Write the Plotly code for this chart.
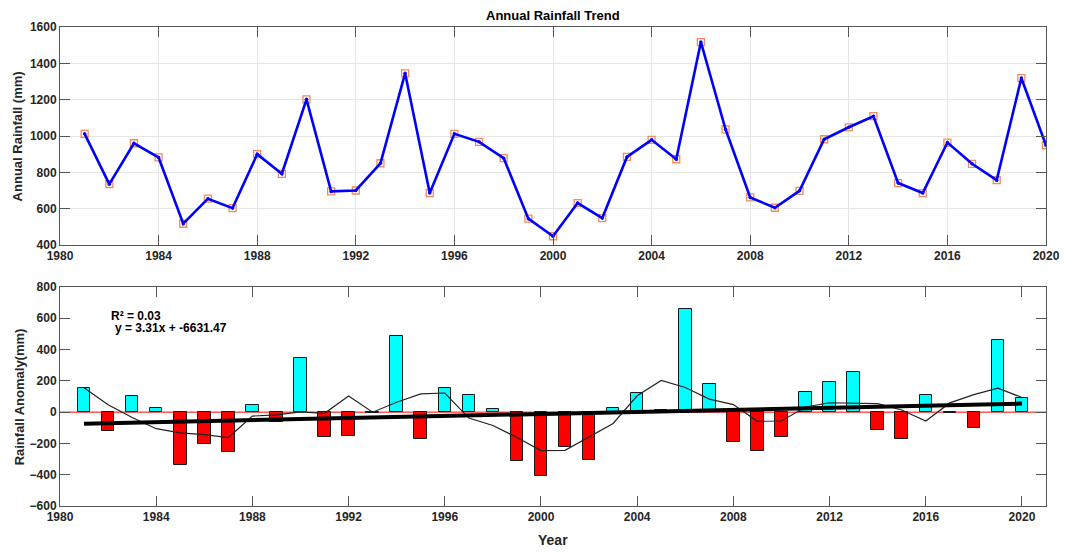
import plotly.graph_objects as go

# Annual rainfall series (mm), 1981-2020
years = list(range(1981, 2021))
rainfall = [1012, 735, 960, 882, 517, 655, 603, 900, 792, 1202,
            695, 700, 850, 1345, 686, 1012, 968, 878, 545, 448,
            631, 548, 885, 979, 872, 1517, 1037, 662, 605, 698,
            982, 1048, 1109, 741, 686, 964, 847, 757, 1319, 949]

# Linear trend fitted to the anomalies
trend_slope = 3.31
trend_intercept = -6631.47
trend_r2 = 0.03

x_ticks = list(range(1980, 2021, 4))

# Anomaly relative to the long-term mean
mean_rain = sum(rainfall) / len(rainfall)
anomaly = [r - mean_rain for r in rainfall]

# 5-point moving average with shrinking window at the ends
n = len(anomaly)
smoothed = []
for i in range(n):
    k = min(i, n - 1 - i, 2)
    seg = anomaly[i - k:i + k + 1]
    smoothed.append(sum(seg) / len(seg))

trend = [trend_slope * y + trend_intercept for y in years]
bar_colors = ["#00FFFF" if a >= 0 else "#FF0000" for a in anomaly]

FONT = "Liberation Sans, Arial, sans-serif"
TXT = "#262626"

fig = go.Figure()

# Top panel: annual rainfall
fig.add_trace(go.Scatter(
    x=years, y=rainfall, mode="markers", xaxis="x", yaxis="y",
    marker=dict(symbol="square-open", size=7, color="#F08A64",
                line=dict(width=1.3, color="#F08A64")),
    showlegend=False, hoverinfo="skip"))
fig.add_trace(go.Scatter(
    x=years, y=rainfall, mode="lines+markers", xaxis="x", yaxis="y",
    line=dict(color="#0000FF", width=2.6),
    marker=dict(symbol="circle", size=3.5, color="#0000FF"),
    showlegend=False))

# Bottom panel: anomaly bars, smoothed curve and linear trend
fig.add_trace(go.Bar(
    x=years, y=anomaly, xaxis="x2", yaxis="y2", width=0.52,
    marker=dict(color=bar_colors, line=dict(color="#1a1a1a", width=1)),
    showlegend=False))
fig.add_trace(go.Scatter(
    x=years, y=smoothed, mode="lines", xaxis="x2", yaxis="y2",
    line=dict(color="#222222", width=1.2), showlegend=False))
fig.add_trace(go.Scatter(
    x=years, y=trend, mode="lines", xaxis="x2", yaxis="y2",
    line=dict(color="#000000", width=4), showlegend=False))

tickfont = dict(family=FONT, size=12, color=TXT, weight="bold")
axis_common = dict(
    ticks="inside", ticklen=10, tickwidth=1, tickcolor="#555555",
    showline=True, linecolor="#555555", linewidth=1, mirror="ticks",
    tickfont=tickfont, zeroline=False)

# plot area spans page rows 27..506 (479 px) and columns 60..1055 (995 px)
def py(row):
    return (506 - row) / 479

def px(col):
    return (col - 60) / 995

fig.update_layout(
    width=1072, height=552,
    margin=dict(l=60, r=17, t=27, b=46),
    paper_bgcolor="white", plot_bgcolor="white",
    bargap=0,
    xaxis=dict(domain=[0, 1], anchor="y", range=[1980, 2020],
               tickvals=x_ticks, showgrid=True, gridcolor="#E6E6E6",
               **axis_common),
    yaxis=dict(domain=[0.5449, 1], anchor="x", range=[400, 1600],
               dtick=200, showgrid=True, gridcolor="#E6E6E6",
               **axis_common),
    xaxis2=dict(domain=[0, 1], anchor="y2", range=[1980, 2021],
                tickvals=x_ticks, showgrid=False, **axis_common),
    yaxis2=dict(domain=[0, 0.4572], anchor="x2", range=[-600, 800],
                dtick=200, showgrid=False, **axis_common),
    shapes=[dict(type="line", xref="x2 domain", yref="y2",
                 x0=0, x1=1, y0=0, y1=0,
                 line=dict(color="#FF0000", width=1), layer="below")],
    annotations=[
        dict(text="Annual Rainfall Trend", xref="paper", yref="paper",
             x=0.5, y=py(16), yanchor="middle", xanchor="center",
             showarrow=False,
             font=dict(family=FONT, size=13, color="#000000", weight="bold")),
        dict(text="Annual Rainfall (mm)", xref="paper", yref="paper",
             x=px(17), y=py(136), textangle=-90,
             xanchor="center", yanchor="middle", showarrow=False,
             font=dict(family=FONT, size=13, color=TXT, weight="bold")),
        dict(text="Rainfall Anomaly(mm)", xref="paper", yref="paper",
             x=px(19), y=py(397), textangle=-90,
             xanchor="center", yanchor="middle", showarrow=False,
             font=dict(family=FONT, size=13, color=TXT, weight="bold")),
        dict(text="Year", xref="paper", yref="paper",
             x=0.5, y=py(540), xanchor="center", yanchor="middle",
             showarrow=False,
             font=dict(family=FONT, size=14, color=TXT, weight="bold")),
        dict(text=f"R² = {trend_r2:.2f}", xref="x2", yref="y2",
             x=1982.05, y=616, xanchor="left", yanchor="middle",
             showarrow=False,
             font=dict(family=FONT, size=12, color="#000000", weight="bold")),
        dict(text=f"y = {trend_slope:.2f}x + {trend_intercept:.2f}",
             xref="x2", yref="y2", x=1982.2, y=537,
             xanchor="left", yanchor="middle", showarrow=False,
             font=dict(family=FONT, size=12, color="#000000", weight="bold")),
    ],
)

fig.write_html("out.html")
